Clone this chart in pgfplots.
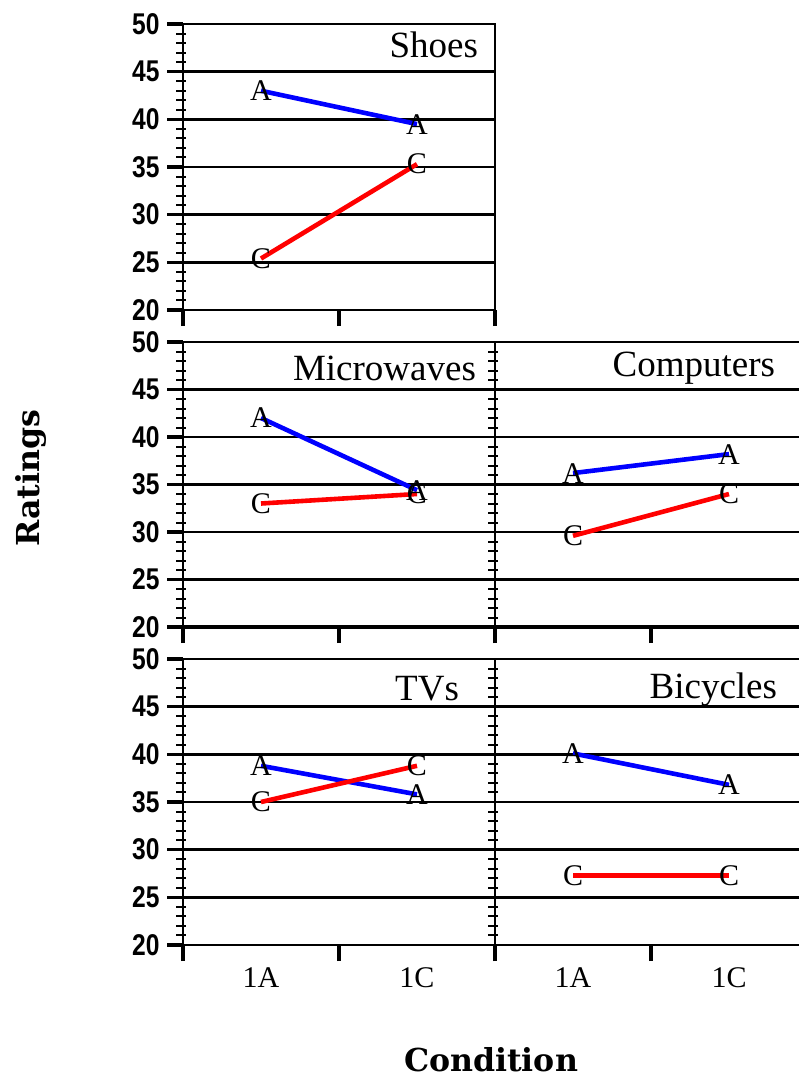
\documentclass[border=0pt]{standalone}
\usepackage{fontspec}
\setmainfont{Liberation Serif}
\setsansfont{Liberation Sans}
\newfontfamily\labfont{DejaVu Serif}
\usepackage{pgfplots}
\pgfplotsset{compat=1.18}
\definecolor{pblue}{RGB}{0,0,255}
\definecolor{pred}{RGB}{255,0,0}
\tikzset{ttl/.style={anchor=base east, font=\fontsize{18.5}{18.5}\selectfont}}
\pgfplotsset{
  panel/.style={
    scale only axis, height=143pt,
    xmin=0, ymin=20, ymax=50,
    ytick={20,25,...,50}, minor y tick num=4,
    xtick={0,1,2}, xticklabels={},
    ymajorgrids, major grid style={black, line width=1.2pt},
    tick align=outside, tick pos=left,
    major tick length=8pt, minor tick length=5pt,
    major tick style={black, line width=1.6pt},
    minor tick style={black, line width=1pt, xshift=1.5pt},
    axis line style={black, line width=1.4pt},
    /pgf/number format/assume math mode=true,
    yticklabel style={font=\fontsize{15}{15}\selectfont\sffamily\bfseries, xscale=0.82, xshift=-1pt},
    clip=false,
  },
  leftp/.style={panel, width=156pt, xmax=2},
  rightp/.style={panel, width=152pt, xmax=1.9487, axis lines*=left, yticklabels={},
    every major y tick/.append style={line width=1.2pt}},
  aser/.style={pblue, line width=2.3pt, mark=text, text mark={A}, text mark as node=true,
    mark options={black},
    text mark style={black, inner sep=0pt, font=\fontsize{15}{15}\selectfont}},
  cser/.style={pred, line width=2.3pt, mark=text, text mark={C}, text mark as node=true,
    mark options={black},
    text mark style={black, inner sep=0pt, font=\fontsize{15}{15}\selectfont}},
  bottomrow/.style={extra x ticks={0.5,1.5}, extra x tick labels={1A,1C},
    extra x tick style={major tick length=0pt},
    xticklabel style={font=\fontsize{15}{15}\selectfont, yshift=-8pt}},
}
\begin{document}
\begin{tikzpicture}
% Top-left: Shoes
\begin{axis}[leftp, at={(91.5pt,-155pt)}, anchor=south west]
\addplot[aser] coordinates {(0.5,43.0) (1.5,39.5)};
\addplot[cser] coordinates {(0.5,25.4) (1.5,35.3)};
\node[ttl] at (axis cs:1.936,46.5) {Shoes};
\end{axis}
% Middle-left: Microwaves
\begin{axis}[leftp, at={(91.5pt,-313.5pt)}, anchor=south west, height=142.5pt]
\addplot[aser] coordinates {(0.5,42.0) (1.5,34.4)};
\addplot[cser] coordinates {(0.5,33.0) (1.5,34.0)};
\node[ttl] at (axis cs:1.923,45.9) {Microwaves};
\draw[line width=2pt] (rel axis cs:0,0) -- (rel axis cs:1,0);
\end{axis}
% Middle-right: Computers
\begin{axis}[rightp, at={(247.5pt,-313.5pt)}, anchor=south west, height=142.5pt]
\addplot[aser] coordinates {(0.5,36.2) (1.5,38.2)};
\addplot[cser] coordinates {(0.5,29.6) (1.5,34.0)};
\node[ttl] at (axis cs:1.840,46.35) {Computers};
\draw[line width=2pt] (rel axis cs:0,0) -- (rel axis cs:1,0);
\end{axis}
% Bottom-left: TVs
\begin{axis}[leftp, bottomrow, at={(91.5pt,-472.5pt)}, anchor=south west]
\addplot[aser] coordinates {(0.5,38.8) (1.5,35.8)};
\addplot[cser] coordinates {(0.5,35.0) (1.5,38.8)};
\node[ttl] at (axis cs:1.814,45.6) {TVs};
\end{axis}
% Bottom-right: Bicycles
\begin{axis}[rightp, bottomrow, at={(247.5pt,-472.5pt)}, anchor=south west]
\addplot[aser] coordinates {(0.5,40.1) (1.5,36.8)};
\addplot[cser] coordinates {(0.5,27.3) (1.5,27.3)};
\node[ttl] at (axis cs:1.853,45.9) {Bicycles};
\end{axis}
\node[rotate=90, font=\labfont\bfseries\fontsize{15.8}{15.8}\selectfont] at (15.5pt,-239pt) {Ratings};
\node[font=\labfont\bfseries\fontsize{15.8}{15.8}\selectfont] at (245.5pt,-530pt) {Condition};
\pgfresetboundingbox
\useasboundingbox (0,0) rectangle (399.5pt,-540.5pt);
\end{tikzpicture}
\end{document}
